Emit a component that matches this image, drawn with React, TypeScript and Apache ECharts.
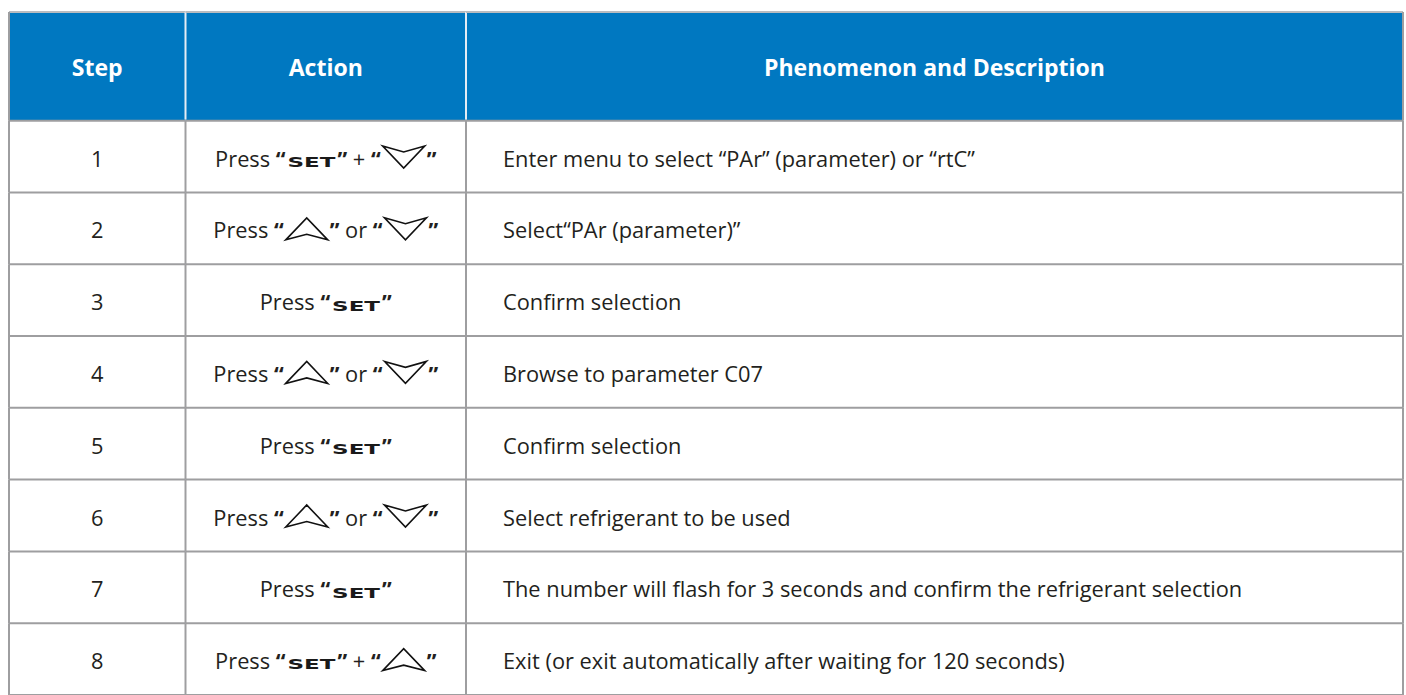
import React, { useEffect, useRef } from "react";
import * as echarts from "echarts";

// ---- table content ----
const headers = ["Step", "Action", "Phenomenon and Description"];
const steps = ["1", "2", "3", "4", "5", "6", "7", "8"];
const actions = [
  "Press “[SET]” + “[DOWN]”",
  "Press “[UP]” or “[DOWN]”",
  "Press “[SET]”",
  "Press “[UP]” or “[DOWN]”",
  "Press “[SET]”",
  "Press “[UP]” or “[DOWN]”",
  "Press “[SET]”",
  "Press “[SET]” + “[UP]”",
];
const descriptions = [
  "Enter menu to select “PAr” (parameter) or “rtC”",
  "Select“PAr (parameter)”",
  "Confirm selection",
  "Browse to parameter C07",
  "Confirm selection",
  "Select refrigerant to be used",
  "The number will flash for 3 seconds and confirm the refrigerant selection",
  "Exit (or exit automatically after waiting for 120 seconds)",
];

// ---- layout (table units) ----
const COL_EDGES = [0, 176.5, 457, 1394];
const HEADER_H = 110.3;
const ROW_H = 72.9;
const TOTAL_H = HEADER_H + ROW_H * steps.length;

const BLUE = "#0078c1";
const GRAY = "#9e9ea0";
const TEXT = "#231f20";
const BODY_SIZE = 21.8;
const BODY_FONT_FAMILY = '"Open Sans", "Noto Sans", sans-serif';
const HEADER_SIZE = 23;
const SET_SIZE = 14.5;
const SET_FAMILY = '"DejaVu Sans", sans-serif';
const SET_W = 48;
const ARROW_W = 42;
const ARROW_H = 22;
const BASE_OFF = 10;

let measureCtx: CanvasRenderingContext2D | null = null;
function measure(text: string, font: string): number {
  if (!measureCtx) measureCtx = document.createElement("canvas").getContext("2d");
  measureCtx!.font = font;
  return measureCtx!.measureText(text).width;
}

function rowBounds(row: number): [number, number] {
  if (row === 0) return [0, HEADER_H];
  const t = HEADER_H + (row - 1) * ROW_H;
  return [t, t + ROW_H];
}

function buildAction(text: string, cx: number, cy: number) {
  const bodyFont = `${BODY_SIZE}px ${BODY_FONT_FAMILY}`;
  const quoteFont = `bold ${BODY_SIZE}px ${BODY_FONT_FAMILY}`;
  const setFont = `bold ${SET_SIZE}px ${SET_FAMILY}`;
  const parts = text
    .split(/(\[SET\]|\[UP\]|\[DOWN\]|“|”)/)
    .filter((p) => p.length > 0);
  const widths = parts.map((p) => {
    if (p === "[SET]") return SET_W + 4;
    if (p === "[UP]" || p === "[DOWN]") return ARROW_W + 4;
    if (p === "“" || p === "”") return measure(p, quoteFont);
    return measure(p, bodyFont);
  });
  const total = widths.reduce((a, b) => a + b, 0);
  let x = cx - total / 2;
  const baseline = cy + BASE_OFF;
  const children: any[] = [];
  const setNatural = measure("SET", setFont);
  parts.forEach((p, i) => {
    const w = widths[i];
    if (p === "[SET]") {
      children.push({
        type: "text",
        x: x + 2,
        y: baseline - 0.346 * SET_SIZE + 0.5,
        scaleX: SET_W / setNatural,
        style: {
          text: "SET",
          x: 0,
          y: 0,
          fill: "#1a1a1a",
          font: setFont,
          align: "left",
          verticalAlign: "middle",
        },
      });
    } else if (p === "[UP]" || p === "[DOWN]") {
      const x0 = x + 2;
      const b = baseline + 1.5;
      const pts =
        p === "[UP]"
          ? [
              [x0, b],
              [x0 + ARROW_W / 2, b - ARROW_H],
              [x0 + ARROW_W, b],
              [x0 + ARROW_W / 2, b - ARROW_H * 0.25],
            ]
          : [
              [x0, b - ARROW_H],
              [x0 + ARROW_W / 2, b - ARROW_H * 0.73],
              [x0 + ARROW_W, b - ARROW_H],
              [x0 + ARROW_W / 2, b],
            ];
      children.push({
        type: "polygon",
        shape: { points: pts },
        style: { fill: "none", stroke: "#111", lineWidth: 1.6, lineJoin: "miter" },
      });
    } else {
      const isQuote = p === "“" || p === "”";
      children.push({
        type: "text",
        style: {
          text: p,
          x: x,
          y: baseline - 0.388 * BODY_SIZE,
          fill: TEXT,
          font: isQuote ? quoteFont : bodyFont,
          align: "left",
          verticalAlign: "middle",
        },
      });
    }
    x += w;
  });
  return children;
}

const cells: number[][] = [];
for (let r = 0; r <= steps.length; r++) {
  for (let c = 0; c < 3; c++) cells.push([c, r]);
}

export default function App() {
  const ref = useRef<HTMLDivElement>(null);
  useEffect(() => {
    if (!ref.current) return;
    const chart = echarts.init(ref.current, undefined, { renderer: "svg" });
    const fillItem = (params: any, api: any) => {
      const col = api.value(0) as number;
      const row = api.value(1) as number;
      const [t, b] = rowBounds(row);
      const p0 = api.coord([COL_EDGES[col], t]);
      const p1 = api.coord([COL_EDGES[col + 1], b]);
      const x0 = p0[0], y0 = p0[1], x1 = p1[0], y1 = p1[1];
      const cx = (x0 + x1) / 2;
      const cy = (y0 + y1) / 2;
      const children: any[] = [
        {
          type: "rect",
          shape: { x: x0, y: y0, width: x1 - x0, height: y1 - y0 },
          style: { fill: row === 0 ? BLUE : "#ffffff" },
        },
      ];
      if (row === 0) {
        children.push({
          type: "text",
          style: {
            text: headers[col],
            x: cx,
            y: cy + 1,
            fill: "#ffffff",
            font: `bold ${HEADER_SIZE}px ${BODY_FONT_FAMILY}`,
            align: "center",
            verticalAlign: "middle",
          },
        });
      } else if (col === 0) {
        children.push({
          type: "text",
          style: {
            text: steps[row - 1],
            x: cx,
            y: cy + BASE_OFF - 0.388 * BODY_SIZE,
            fill: TEXT,
            font: `${BODY_SIZE}px ${BODY_FONT_FAMILY}`,
            align: "center",
            verticalAlign: "middle",
          },
        });
      } else if (col === 1) {
        children.push(...buildAction(actions[row - 1], cx, cy));
      } else {
        children.push({
          type: "text",
          style: {
            text: descriptions[row - 1],
            x: x0 + 37,
            y: cy + BASE_OFF - 0.388 * BODY_SIZE,
            fill: TEXT,
            font: `${BODY_SIZE}px ${BODY_FONT_FAMILY}`,
            align: "left",
            verticalAlign: "middle",
          },
        });
      }
      return { type: "group", children };
    };
    const borderItem = (params: any, api: any) => {
      const col = api.value(0) as number;
      const row = api.value(1) as number;
      const [t, b] = rowBounds(row);
      const p0 = api.coord([COL_EDGES[col], t]);
      const p1 = api.coord([COL_EDGES[col + 1], b]);
      const x0 = p0[0], y0 = p0[1], x1 = p1[0], y1 = p1[1];
      const lines: any[] = [];
      const ln = (ax: number, ay: number, bx: number, by: number, color: string) =>
        lines.push({
          type: "line",
          shape: { x1: ax, y1: ay, x2: bx, y2: by },
          style: { stroke: color, lineWidth: 2 },
        });
      const lastCol = col === COL_EDGES.length - 2;
      if (row === 0) {
        ln(x0, y0, x1, y0, "#b9bcc0");
        if (!lastCol) ln(x1, y0, x1, y1 - 1, "#e4ecf4");
      }
      ln(x0, y1, x1, y1, GRAY);
      if (row > 0 || lastCol) ln(x1, y0, x1, y1, GRAY);
      if (col === 0) ln(x0, y0, x0, y1, GRAY);
      return { type: "group", children: lines };
    };
    chart.setOption({
      animation: false,
      grid: { left: 9, top: 12, width: 1394, height: 693.5, containLabel: false },
      xAxis: { type: "value", min: 0, max: COL_EDGES[COL_EDGES.length - 1], show: false },
      yAxis: { type: "value", min: 0, max: TOTAL_H, inverse: true, show: false },
      series: [
        {
          type: "custom",
          coordinateSystem: "cartesian2d",
          clip: false,
          silent: true,
          renderItem: fillItem,
          data: cells,
          z: 1,
        },
        {
          type: "custom",
          coordinateSystem: "cartesian2d",
          clip: false,
          silent: true,
          renderItem: borderItem,
          data: cells,
          z: 2,
        },
      ],
    });
    return () => chart.dispose();
  }, []);
  return (
    <div
      ref={ref}
      style={{ position: "absolute", left: 0, top: 0, width: 1406, height: 695, background: "#ffffff" }}
    />
  );
}
